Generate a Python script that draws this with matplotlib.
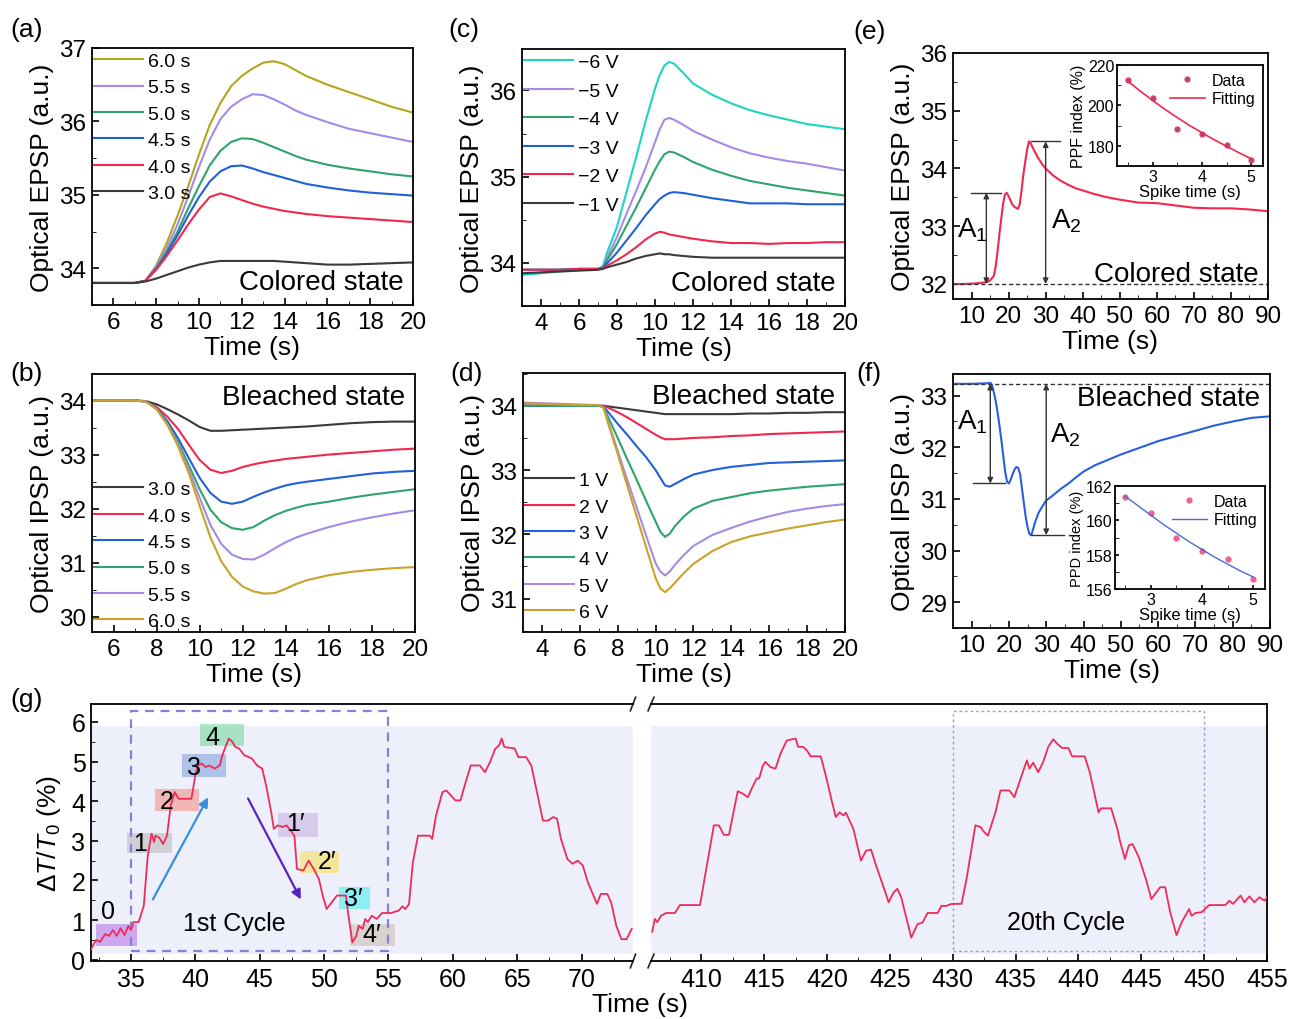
import numpy as np
import matplotlib.pyplot as plt
from matplotlib.patches import Rectangle
from matplotlib.ticker import AutoMinorLocator, MultipleLocator

plt.rcParams['font.family'] = ['Liberation Sans', 'DejaVu Sans']
plt.rcParams['mathtext.fontset'] = 'custom'
plt.rcParams['mathtext.rm'] = 'Liberation Sans'
plt.rcParams['mathtext.it'] = 'Liberation Sans:italic'
plt.rcParams['axes.linewidth'] = 1.3
plt.rcParams['xtick.direction'] = 'in'
plt.rcParams['ytick.direction'] = 'in'
plt.rcParams['xtick.major.size'] = 5
plt.rcParams['ytick.major.size'] = 5
plt.rcParams['xtick.minor.size'] = 3
plt.rcParams['ytick.minor.size'] = 3
plt.rcParams['xtick.major.width'] = 1.2
plt.rcParams['ytick.major.width'] = 1.2

# ---- (a) EPSP, different spike durations ----
t_a = [5, 6, 7, 7.5, 8, 8.5, 9, 9.5, 10, 10.5, 11, 11.5, 12, 12.5, 13, 13.5, 14, 14.5, 15, 16, 17, 18, 19, 20]
epsp_3s = [33.80, 33.80, 33.80, 33.82, 33.86, 33.91, 33.96, 34.01, 34.05, 34.08, 34.10, 34.10, 34.10, 34.10, 34.10, 34.10, 34.09, 34.08, 34.07, 34.05, 34.05, 34.06, 34.07, 34.08]
epsp_4s = [33.80, 33.80, 33.80, 33.83, 33.98, 34.17, 34.38, 34.60, 34.80, 34.97, 35.02, 34.98, 34.93, 34.88, 34.84, 34.81, 34.78, 34.76, 34.74, 34.71, 34.69, 34.67, 34.65, 34.63]
epsp_45s = [33.80, 33.80, 33.80, 33.83, 33.99, 34.20, 34.45, 34.72, 34.97, 35.18, 35.32, 35.39, 35.40, 35.36, 35.31, 35.27, 35.23, 35.19, 35.15, 35.10, 35.06, 35.03, 35.01, 34.99]
epsp_5s = [33.80, 33.80, 33.80, 33.83, 34.00, 34.23, 34.50, 34.82, 35.12, 35.40, 35.60, 35.72, 35.77, 35.76, 35.71, 35.65, 35.59, 35.53, 35.48, 35.41, 35.36, 35.32, 35.28, 35.25]
epsp_55s = [33.80, 33.80, 33.80, 33.83, 34.02, 34.28, 34.60, 34.98, 35.38, 35.75, 36.03, 36.20, 36.30, 36.37, 36.36, 36.30, 36.23, 36.15, 36.09, 35.99, 35.90, 35.84, 35.78, 35.72]
epsp_6s = [33.80, 33.80, 33.80, 33.83, 34.04, 34.35, 34.72, 35.12, 35.55, 35.95, 36.25, 36.48, 36.62, 36.72, 36.80, 36.82, 36.78, 36.70, 36.62, 36.50, 36.40, 36.30, 36.20, 36.12]

# ---- (b) IPSP, different spike durations ----
t_b = t_a
ipsp_3s = [34, 34, 34, 33.99, 33.93, 33.84, 33.74, 33.63, 33.51, 33.44, 33.44, 33.45, 33.46, 33.47, 33.48, 33.49, 33.50, 33.51, 33.52, 33.55, 33.58, 33.60, 33.61, 33.61]
ipsp_4s = [34, 34, 34, 33.98, 33.88, 33.70, 33.47, 33.18, 32.90, 32.72, 32.66, 32.70, 32.77, 32.82, 32.86, 32.89, 32.92, 32.94, 32.96, 33.00, 33.03, 33.06, 33.09, 33.11]
ipsp_45s = [34, 34, 34, 33.98, 33.86, 33.62, 33.30, 32.93, 32.57, 32.29, 32.13, 32.09, 32.13, 32.22, 32.30, 32.37, 32.43, 32.47, 32.50, 32.55, 32.60, 32.65, 32.68, 32.70]
ipsp_5s = [34, 34, 34, 33.98, 33.85, 33.58, 33.22, 32.80, 32.36, 31.98, 31.75, 31.64, 31.61, 31.66, 31.78, 31.88, 31.96, 32.02, 32.07, 32.13, 32.20, 32.26, 32.31, 32.36]
ipsp_55s = [34, 34, 34, 33.98, 33.84, 33.56, 33.18, 32.72, 32.20, 31.70, 31.35, 31.15, 31.07, 31.06, 31.15, 31.27, 31.38, 31.47, 31.54, 31.66, 31.76, 31.84, 31.91, 31.97]
ipsp_6s = [34, 34, 34, 33.98, 33.84, 33.55, 33.15, 32.65, 32.05, 31.47, 31.03, 30.74, 30.56, 30.47, 30.43, 30.44, 30.52, 30.61, 30.68, 30.77, 30.83, 30.87, 30.90, 30.92]

# ---- (c) EPSP, different negative voltages ----
t_c = [3, 4, 5, 6, 7, 7.25, 7.5, 8, 8.5, 9, 9.5, 10, 10.25, 10.5, 10.75, 11, 11.5, 12, 13, 14, 15, 16, 17, 18, 19, 20]
epsp_m6 = [33.86, 33.88, 33.90, 33.92, 33.93, 33.96, 34.13, 34.42, 34.82, 35.22, 35.64, 36.02, 36.18, 36.29, 36.33, 36.31, 36.20, 36.08, 35.95, 35.85, 35.77, 35.71, 35.66, 35.61, 35.58, 35.55]
epsp_m5 = [33.92, 33.92, 33.92, 33.93, 33.93, 33.95, 34.07, 34.30, 34.57, 34.83, 35.10, 35.40, 35.55, 35.66, 35.68, 35.66, 35.60, 35.53, 35.43, 35.34, 35.27, 35.22, 35.18, 35.15, 35.11, 35.07]
epsp_m4 = [33.92, 33.92, 33.92, 33.93, 33.93, 33.94, 34.04, 34.22, 34.43, 34.64, 34.86, 35.08, 35.18, 35.26, 35.29, 35.28, 35.23, 35.17, 35.08, 35.01, 34.95, 34.91, 34.87, 34.84, 34.81, 34.78]
epsp_m3 = [33.92, 33.92, 33.92, 33.93, 33.93, 33.94, 34.00, 34.12, 34.26, 34.40, 34.55, 34.68, 34.74, 34.78, 34.81, 34.82, 34.81, 34.79, 34.75, 34.72, 34.69, 34.69, 34.69, 34.68, 34.68, 34.68]
epsp_m2 = [33.92, 33.92, 33.92, 33.93, 33.93, 33.94, 33.97, 34.03, 34.10, 34.18, 34.27, 34.34, 34.36, 34.35, 34.33, 34.32, 34.30, 34.28, 34.25, 34.23, 34.23, 34.22, 34.23, 34.23, 34.24, 34.24]
epsp_m1 = [33.88, 33.89, 33.90, 33.91, 33.92, 33.93, 33.95, 33.98, 34.01, 34.05, 34.08, 34.10, 34.11, 34.10, 34.10, 34.09, 34.08, 34.07, 34.06, 34.06, 34.06, 34.06, 34.06, 34.06, 34.06, 34.06]

# ---- (d) IPSP, different positive voltages ----
t_d = t_c
ipsp_1v = [34.00, 34.00, 34.00, 34.00, 34.00, 34.00, 33.99, 33.97, 33.95, 33.93, 33.91, 33.89, 33.88, 33.87, 33.87, 33.87, 33.87, 33.87, 33.87, 33.87, 33.88, 33.88, 33.89, 33.89, 33.90, 33.90]
ipsp_2v = [34.00, 34.00, 34.00, 34.00, 34.00, 34.00, 33.97, 33.90, 33.82, 33.73, 33.64, 33.55, 33.51, 33.48, 33.48, 33.48, 33.49, 33.50, 33.51, 33.53, 33.54, 33.56, 33.57, 33.58, 33.59, 33.60]
ipsp_3v = [34.00, 34.00, 34.00, 34.00, 34.00, 33.99, 33.90, 33.72, 33.55, 33.37, 33.20, 33.00, 32.88, 32.76, 32.74, 32.78, 32.86, 32.93, 33.00, 33.05, 33.08, 33.11, 33.12, 33.13, 33.14, 33.15]
ipsp_4v = [34.00, 34.00, 34.00, 34.00, 34.00, 33.98, 33.82, 33.50, 33.17, 32.85, 32.52, 32.20, 32.04, 31.96, 32.01, 32.12, 32.28, 32.40, 32.52, 32.58, 32.64, 32.68, 32.71, 32.74, 32.76, 32.78]
ipsp_5v = [34.05, 34.04, 34.03, 34.02, 34.01, 33.97, 33.75, 33.30, 32.85, 32.42, 31.98, 31.55, 31.42, 31.36, 31.42, 31.52, 31.68, 31.82, 31.99, 32.10, 32.20, 32.28, 32.35, 32.40, 32.44, 32.47]
ipsp_6v = [34.04, 34.03, 34.02, 34.01, 34.01, 33.97, 33.72, 33.25, 32.76, 32.28, 31.80, 31.32, 31.16, 31.10, 31.16, 31.24, 31.40, 31.54, 31.74, 31.88, 31.97, 32.03, 32.09, 32.14, 32.19, 32.23]

# ---- (e) paired-pulse facilitation ----
t_e = [5, 8, 11, 14, 15, 16, 16.5, 17, 17.5, 18, 18.5, 19, 19.5, 20, 20.5, 21, 21.5, 22, 22.5, 23, 23.5, 24, 24.5, 25, 25.5, 26,
       27, 28, 29, 30, 32, 34, 36, 38, 40, 43, 46, 50, 55, 60, 65, 70, 75, 80, 85, 90]
epsp_e = [32.00, 32.00, 32.01, 32.03, 32.06, 32.14, 32.30, 32.55, 32.85, 33.12, 33.38, 33.55, 33.58, 33.52, 33.45, 33.38, 33.34, 33.32, 33.30, 33.38, 33.62, 33.90, 34.12, 34.33, 34.47, 34.43,
          34.30, 34.18, 34.08, 34.00, 33.88, 33.79, 33.72, 33.66, 33.62, 33.56, 33.51, 33.46, 33.41, 33.40, 33.36, 33.32, 33.31, 33.31, 33.29, 33.26]
spike_t = [2.5, 3, 3.5, 4, 4.5, 5]
ppf_data = [212.5, 203.5, 188.5, 186, 180.5, 173]
fit_t = [2.5, 2.75, 3, 3.25, 3.5, 3.75, 4, 4.25, 4.5, 4.75, 5]
ppf_fit = [212, 207.1, 202.5, 198.1, 194, 190.1, 186.5, 183, 179.8, 176.6, 173.6]

# ---- (f) paired-pulse depression ----
t_f = [5, 10, 14, 15, 15.5, 16, 16.5, 17, 17.5, 18, 18.5, 19, 19.5, 20, 20.5, 21, 21.5, 22, 22.5, 23, 23.5, 24, 24.5, 25, 25.5, 26, 26.5, 27,
       28, 29, 30, 32, 34, 36, 38, 40, 43, 46, 50, 55, 60, 65, 70, 75, 80, 85, 90]
ipsp_f = [33.23, 33.23, 33.24, 33.25, 33.20, 33.05, 32.88, 32.65, 32.40, 32.12, 31.82, 31.52, 31.33, 31.30, 31.38, 31.48, 31.57, 31.62, 31.60, 31.48, 31.20, 30.92, 30.65, 30.45, 30.32, 30.30, 30.42, 30.55,
          30.74, 30.86, 30.97, 31.08, 31.20, 31.30, 31.42, 31.53, 31.65, 31.74, 31.86, 31.99, 32.12, 32.22, 32.32, 32.42, 32.50, 32.57, 32.60]
ppd_data = [161.35, 160.4, 158.95, 158.2, 157.75, 156.6]
ppd_fit = [161.4, 160.85, 160.3, 159.75, 159.25, 158.75, 158.3, 157.85, 157.45, 157.05, 156.7]

# ---- (g) cycling of the transmittance change ----
g1_t = [31.9, 32.3, 32.6, 33.0, 33.3, 33.6, 33.9, 34.2, 34.5, 34.8, 35.0, 35.2, 35.6, 36.0, 36.3, 36.6, 36.8, 36.9, 37.2, 37.5,
        37.8, 38.1, 38.4, 38.7, 39.7, 40.0, 40.2, 40.5, 40.8, 41.1, 41.5, 41.9, 42.1, 42.6, 42.9, 43.1, 43.4, 43.8, 44.1, 44.4,
        44.8, 45.2, 45.5, 45.9, 46.1, 46.4, 46.8, 47.1, 47.3, 47.7, 47.9, 48.4, 48.8, 49.2, 49.6, 49.9, 50.2, 50.6, 51.0, 51.7,
        51.9, 52.2, 52.5, 52.7, 53.0, 53.2, 53.4, 53.7, 54.1, 54.5, 55.2, 55.8, 56.1, 56.3, 56.6, 56.9, 57.3, 58.2, 58.4, 58.7,
        59.2, 59.5, 60.2, 60.6, 61.0, 61.4, 62.1, 62.5, 62.9, 63.3, 63.6, 63.8, 64.0, 64.3, 64.8, 65.1, 65.7, 66.1, 66.6, 67.0,
        67.4, 67.8, 68.1, 68.4, 68.9, 69.3, 69.7, 70.1, 70.5, 71.2, 71.5, 72.0, 72.3, 72.7, 73.1, 73.5, 73.9]
g1_y = [0.27, 0.50, 0.45, 0.65, 0.60, 0.75, 0.60, 0.80, 0.62, 0.85, 0.75, 0.95, 0.95, 1.36, 2.60, 3.18, 2.97, 3.13, 3.08, 2.92,
        3.13, 3.90, 4.23, 4.06, 4.06, 4.65, 4.90, 4.95, 4.86, 4.90, 4.82, 4.90, 5.16, 5.58, 5.49, 5.37, 5.33, 5.16, 5.12, 5.07,
        4.90, 4.82, 4.40, 3.72, 3.30, 3.39, 3.35, 3.39, 3.30, 3.13, 2.29, 2.25, 2.50, 2.29, 2.04, 1.62, 1.28, 1.45, 1.62, 1.62,
        1.11, 0.44, 0.60, 0.86, 0.78, 1.03, 0.95, 1.11, 1.03, 1.18, 1.18, 1.24, 1.35, 1.28, 1.40, 2.46, 3.13, 3.13, 3.05, 3.64,
        4.23, 4.27, 4.02, 4.02, 4.48, 4.90, 4.90, 4.73, 4.99, 5.32, 5.41, 5.58, 5.37, 5.35, 5.33, 5.11, 5.11, 4.90, 4.14, 3.51,
        3.51, 3.60, 3.56, 3.05, 2.54, 2.42, 2.50, 2.38, 1.95, 1.41, 1.66, 1.66, 1.45, 0.86, 0.52, 0.52, 0.78]
g2_t = [406.1, 406.3, 406.5, 406.8, 407.2, 407.9, 408.3, 408.9, 409.9, 410.3, 411.0, 411.4, 411.8, 412.2, 412.9, 413.3, 413.7,
        414.0, 414.4, 414.6, 414.9, 415.1, 415.5, 415.9, 416.3, 416.8, 417.5, 417.7, 418.1, 418.4, 418.7, 419.5, 419.9, 420.4,
        420.7, 421.0, 421.3, 421.5, 422.1, 422.7, 423.1, 423.5, 423.9, 424.6, 424.9, 425.3, 425.6, 425.9, 426.7, 427.2, 427.6,
        428.0, 428.8, 429.1, 429.5, 429.9, 430.7, 431.1, 431.8, 432.2, 432.5, 432.8, 433.4, 433.8, 434.5, 434.9, 435.4, 435.9,
        436.1, 436.4, 436.8, 437.2, 437.6, 438.0, 438.3, 438.7, 439.2, 439.5, 440.5, 440.9, 441.6, 441.8, 442.6, 443.1, 443.3,
        443.7, 444.0, 444.3, 444.8, 445.4, 445.8, 446.5, 446.9, 447.3, 447.8, 448.2, 448.8, 449.0, 449.3, 449.8, 450.4, 451.7,
        452.0, 452.3, 452.9, 453.2, 453.6, 454.0, 454.4, 454.8, 455.0]
g2_y = [0.71, 1.03, 0.95, 1.11, 1.18, 1.18, 1.38, 1.38, 1.38, 2.12, 3.39, 3.39, 3.15, 3.15, 4.25, 4.19, 4.10,
        4.31, 4.57, 4.57, 4.90, 4.99, 4.86, 4.82, 5.20, 5.53, 5.58, 5.37, 5.37, 5.28, 5.13, 5.13, 4.65, 3.98,
        3.60, 3.72, 3.64, 3.71, 3.30, 2.50, 2.75, 2.78, 2.38, 1.74, 1.45, 1.70, 1.79, 1.58, 0.56, 0.90, 0.94,
        1.18, 1.18, 1.36, 1.36, 1.41, 1.41, 2.04, 3.39, 3.35, 3.22, 3.13, 3.72, 4.27, 4.27, 4.10, 4.57, 5.03,
        4.82, 4.97, 4.73, 4.99, 5.37, 5.56, 5.45, 5.34, 5.34, 5.13, 5.13, 4.73, 3.72, 3.82, 3.82, 3.30, 3.00,
        2.54, 2.88, 2.92, 2.59, 2.00, 1.53, 1.83, 1.83, 1.20, 0.62, 0.94, 1.28, 1.11, 1.18, 1.20, 1.38, 1.38,
        1.49, 1.41, 1.62, 1.45, 1.60, 1.45, 1.58, 1.49, 1.58]
state_labels = ['0', '1', '2', '3', '4', '1\u2032', '2\u2032', '3\u2032', '4\u2032']

W, H = 1289, 1020
fig = plt.figure(figsize=(W / 100, H / 100), dpi=100)


def box(l, t, r, b):
    return [l / W, 1 - b / H, (r - l) / W, (b - t) / H]


def style(ax, xlim, ylim, xstep, ystep, size=17.5):
    ax.set_xlim(*xlim)
    ax.set_ylim(*ylim)
    ax.xaxis.set_major_locator(MultipleLocator(xstep))
    ax.yaxis.set_major_locator(MultipleLocator(ystep))
    ax.xaxis.set_minor_locator(AutoMinorLocator(2))
    ax.yaxis.set_minor_locator(AutoMinorLocator(2))
    ax.tick_params(labelsize=size, pad=4)


BLACK, RED, BLUE, GREEN, PURPLE = '#3a3a3a', '#f0284e', '#2160d8', '#2ea36a', '#a58be6'
OLIVE, GOLD, CYAN = '#b3a61c', '#c9a227', '#1fd3c5'
lw = 1.5
leg_kw = dict(frameon=False, fontsize=14, handlelength=2.5, handletextpad=0.3,
              labelspacing=0.45, borderpad=0.1, borderaxespad=0.0)

# (a)
ax = fig.add_axes(box(92, 49, 413, 306))
for y, c, lab in [(epsp_6s, OLIVE, '6.0 s'), (epsp_55s, PURPLE, '5.5 s'), (epsp_5s, GREEN, '5.0 s'),
                  (epsp_45s, BLUE, '4.5 s'), (epsp_4s, RED, '4.0 s'), (epsp_3s, BLACK, '3.0 s')]:
    ax.plot(t_a, y, color=c, lw=lw, label=lab)
style(ax, (5, 20), (33.5, 37), 2, 1)
ax.legend(loc='upper left', bbox_to_anchor=(0, 0.99), **leg_kw)
ax.text(0.97, 0.04, 'Colored state', transform=ax.transAxes, ha='right', va='bottom', fontsize=20)
ax.set_xlabel('Time (s)', fontsize=19, labelpad=2)
ax.set_ylabel('Optical EPSP (a.u.)', fontsize=19, labelpad=4)

# (b)
ax = fig.add_axes(box(92, 375, 415, 633))
for y, c, lab in [(ipsp_3s, BLACK, '3.0 s'), (ipsp_4s, RED, '4.0 s'), (ipsp_45s, BLUE, '4.5 s'),
                  (ipsp_5s, GREEN, '5.0 s'), (ipsp_55s, PURPLE, '5.5 s'), (ipsp_6s, GOLD, '6.0 s')]:
    ax.plot(t_b, y, color=c, lw=lw, label=lab)
style(ax, (5, 20), (29.72, 34.49), 2, 1)
ax.legend(loc='lower left', bbox_to_anchor=(0, 0.0), **leg_kw)
ax.text(0.97, 0.96, 'Bleached state', transform=ax.transAxes, ha='right', va='top', fontsize=20)
ax.set_xlabel('Time (s)', fontsize=19, labelpad=2)
ax.set_ylabel('Optical IPSP (a.u.)', fontsize=19, labelpad=4)

# (c)
ax = fig.add_axes(box(522, 50, 845, 307))
for y, c, lab in [(epsp_m6, CYAN, '\u22126 V'), (epsp_m5, PURPLE, '\u22125 V'), (epsp_m4, GREEN, '\u22124 V'),
                  (epsp_m3, BLUE, '\u22123 V'), (epsp_m2, RED, '\u22122 V'), (epsp_m1, BLACK, '\u22121 V')]:
    ax.plot(t_c, y, color=c, lw=lw, label=lab)
style(ax, (3, 20), (33.5, 36.48), 2, 1)
ax.legend(loc='upper left', bbox_to_anchor=(0, 0.99), **dict(leg_kw, labelspacing=0.56))
ax.text(0.97, 0.04, 'Colored state', transform=ax.transAxes, ha='right', va='bottom', fontsize=20)
ax.set_xlabel('Time (s)', fontsize=19, labelpad=2)
ax.set_ylabel('Optical EPSP (a.u.)', fontsize=19, labelpad=4)

# (d)
ax = fig.add_axes(box(523, 374, 845, 633))
for y, c, lab in [(ipsp_1v, BLACK, '1 V'), (ipsp_2v, RED, '2 V'), (ipsp_3v, BLUE, '3 V'),
                  (ipsp_4v, GREEN, '4 V'), (ipsp_5v, PURPLE, '5 V'), (ipsp_6v, GOLD, '6 V')]:
    ax.plot(t_d, y, color=c, lw=lw, label=lab)
style(ax, (3, 20), (30.48, 34.51), 2, 1)
ax.legend(loc='lower left', bbox_to_anchor=(0, 0.035), **leg_kw)
ax.text(0.97, 0.96, 'Bleached state', transform=ax.transAxes, ha='right', va='top', fontsize=20)
ax.set_xlabel('Time (s)', fontsize=19, labelpad=2)
ax.set_ylabel('Optical IPSP (a.u.)', fontsize=19, labelpad=4)

# (e)
ax = fig.add_axes(box(953, 54, 1268, 300))
ax.plot(t_e, epsp_e, color=RED, lw=lw)
ax.axhline(epsp_e[0], color='#333333', ls=(0, (3, 2)), lw=1.0)
style(ax, (5, 90), (31.74, 36.0), 10, 1)
a1, a2 = max(epsp_e[:16]), max(epsp_e)
for x, top, x0, x1 in [(14, a1, 9.8, 17.9), (30, a2, 26, 34)]:
    ax.annotate('', xy=(x, epsp_e[0]), xytext=(x, top),
                arrowprops=dict(arrowstyle='<|-|>', color='#333333', lw=1.0, mutation_scale=8, shrinkA=0, shrinkB=0))
    ax.plot([x0, x1], [top, top], color='#333333', lw=1.0)
ax.text(6, 32.95, 'A$_1$', fontsize=20, va='center')
ax.text(31.5, 33.1, 'A$_2$', fontsize=20, va='center')
ax.text(0.97, 0.05, 'Colored state', transform=ax.transAxes, ha='right', va='bottom', fontsize=20)
ax.set_xlabel('Time (s)', fontsize=19, labelpad=2)
ax.set_ylabel('Optical EPSP (a.u.)', fontsize=19, labelpad=4)

ins = fig.add_axes(box(1117, 66, 1263, 167))
ins.plot(spike_t, ppf_data, 'o', color='#8c5a66', mec='#e04070', ms=3.5, label='Data', ls='none')
ins.plot(fit_t, ppf_fit, color=RED, lw=1.2, label='Fitting')
style(ins, (2.28, 5.24), (170, 220), 1, 20, size=11.5)
ins.tick_params(length=3, pad=2)
ins.xaxis.set_minor_locator(AutoMinorLocator(2))
ins.set_xlabel('Spike time (s)', fontsize=12, labelpad=0)
ins.set_ylabel('PPF index (%)', fontsize=11.5, labelpad=1)
ins.legend(loc='upper right', frameon=False, fontsize=11.5, handlelength=2.2, handletextpad=0.4,
           borderaxespad=0.1, labelspacing=0.2)

# (f)
ax = fig.add_axes(box(953, 375, 1270, 629))
ax.plot(t_f, ipsp_f, color='#2a5fdc', lw=lw)
ax.axhline(ipsp_f[0], color='#333333', ls=(0, (3, 2)), lw=1.0)
style(ax, (5, 90), (28.5, 33.42), 10, 1)
b1, b2 = min(ipsp_f[:18]), min(ipsp_f)
for x, bot, x0, x1 in [(15, b1, 10.4, 19), (30, b2, 25.8, 34.8)]:
    ax.annotate('', xy=(x, bot), xytext=(x, ipsp_f[0]),
                arrowprops=dict(arrowstyle='<|-|>', color='#333333', lw=1.0, mutation_scale=8, shrinkA=0, shrinkB=0))
    ax.plot([x0, x1], [bot, bot], color='#333333', lw=1.0)
ax.text(6, 32.5, 'A$_1$', fontsize=20, va='center')
ax.text(31, 32.25, 'A$_2$', fontsize=20, va='center')
ax.text(0.97, 0.955, 'Bleached state', transform=ax.transAxes, ha='right', va='top', fontsize=20)
ax.set_xlabel('Time (s)', fontsize=19, labelpad=2)
ax.set_ylabel('Optical IPSP (a.u.)', fontsize=19, labelpad=4)

ins = fig.add_axes(box(1115, 487, 1265, 590))
ins.plot(spike_t, ppd_data, 'o', color='#f06090', mec='#f06090', ms=3.5, label='Data', ls='none')
ins.plot(fit_t, ppd_fit, color='#4a6ad8', lw=1.0, label='Fitting')
style(ins, (2.3, 5.23), (156, 162), 1, 2, size=11.5)
ins.tick_params(length=3, pad=2)
ins.set_xlabel('Spike time (s)', fontsize=12, labelpad=0)
ins.set_ylabel('PPD index (%)', fontsize=10.5, labelpad=1)
ins.legend(loc='upper right', frameon=False, fontsize=11.5, handlelength=2.2, handletextpad=0.4,
           borderaxespad=0.1, labelspacing=0.2)

# (g) broken time axis
gl = fig.add_axes(box(91, 705, 633, 962))
gr = fig.add_axes(box(651, 705, 1267, 962))
for a, t, y, lim in [(gl, g1_t, g1_y, (31.9, 74.0)), (gr, g2_t, g2_y, (406, 455))]:
    a.axhspan(0.15, 5.9, color='#edeffa', zorder=0, lw=0)
    a.plot(t, y, color='#ee2c5a', lw=1.3, zorder=3)
    style(a, lim, (-0.03, 6.45), 5, 1, size=18)
gl.spines['right'].set_visible(False)
gr.spines['left'].set_visible(False)
gr.tick_params(left=False, labelleft=False, which='both')
gl.yaxis.set_minor_locator(AutoMinorLocator(2))

# break marks
d = 0.012
for a, xs in [(gl, 1.0), (gr, 0.0)]:
    for yb in (0.0, 1.0):
        a.plot([xs - d * 0.4, xs + d * 0.4], [yb - d * 2.2, yb + d * 2.2], transform=a.transAxes,
               color='#222222', lw=1.2, clip_on=False)

gl.add_patch(Rectangle((35, 0.21), 20, 6.06, fill=False, ls=(0, (4, 3)), ec='#8a7fd6', lw=1.6, zorder=2))
gr.add_patch(Rectangle((430, 0.21), 20, 6.06, fill=False, ls=(0, (2, 2)), ec='#a49ccc', lw=1.0, zorder=2))

# labelled states with tinted boxes
box_cols = ['#b06ee8', '#b8b8b8', '#f48a7c', '#7a9ed6', '#6cd896', '#c6aee2', '#f8de50', '#3ef0f0', '#c8bcb0']
text_xy = [(33.2, 1.22), (35.7, 2.95), (37.8, 4.0), (39.9, 4.86), (41.3, 5.62), (47.8, 3.45), (50.2, 2.48), (52.3, 1.55), (53.7, 0.65)]
rects = [(32.3, 0.35, 3.2, 0.55), (34.7, 2.7, 3.5, 0.5), (36.9, 3.75, 3.4, 0.55), (39.0, 4.6, 3.4, 0.6),
         (40.4, 5.4, 3.4, 0.55), (46.4, 3.1, 3.1, 0.6), (48.1, 2.2, 3.1, 0.55), (51.2, 1.28, 2.4, 0.55), (52.0, 0.35, 3.5, 0.55)]
for lab, c, (tx, ty), (rx, ry, rw, rh) in zip(state_labels, box_cols, text_xy, rects):
    gl.add_patch(Rectangle((rx, ry), rw, rh, color=c, alpha=0.55, lw=0, zorder=1))
    gl.text(tx, ty, lab, fontsize=18, ha='center', va='center', zorder=4)

gl.annotate('', xy=(41.1, 4.16), xytext=(36.6, 1.46),
            arrowprops=dict(arrowstyle='-|>', color='#3a8ee0', lw=1.6, mutation_scale=14), zorder=4)
gl.annotate('', xy=(48.3, 1.46), xytext=(44.0, 4.13),
            arrowprops=dict(arrowstyle='-|>', color='#5a22c0', lw=1.6, mutation_scale=14), zorder=4)
gl.text(43.0, 0.92, '1st Cycle', fontsize=18, ha='center', va='center', zorder=4)
gr.text(439.0, 0.95, '20th Cycle', fontsize=18, ha='center', va='center', zorder=4)
gl.set_ylabel(r'$\Delta T/T_0$ (%)', fontsize=19, labelpad=6)
fig.text(640 / W, 1 - 1005 / H, 'Time (s)', fontsize=19, ha='center', va='center')

# panel letters
for lab, x, y in [('(a)', 10, 30), ('(c)', 448, 30), ('(e)', 853, 32), ('(b)', 10, 374),
                  ('(d)', 450, 374), ('(f)', 856, 374), ('(g)', 10, 700)]:
    fig.text(x / W, 1 - y / H, lab, fontsize=19, va='center', ha='left')

fig.savefig('out.png', dpi=100)
